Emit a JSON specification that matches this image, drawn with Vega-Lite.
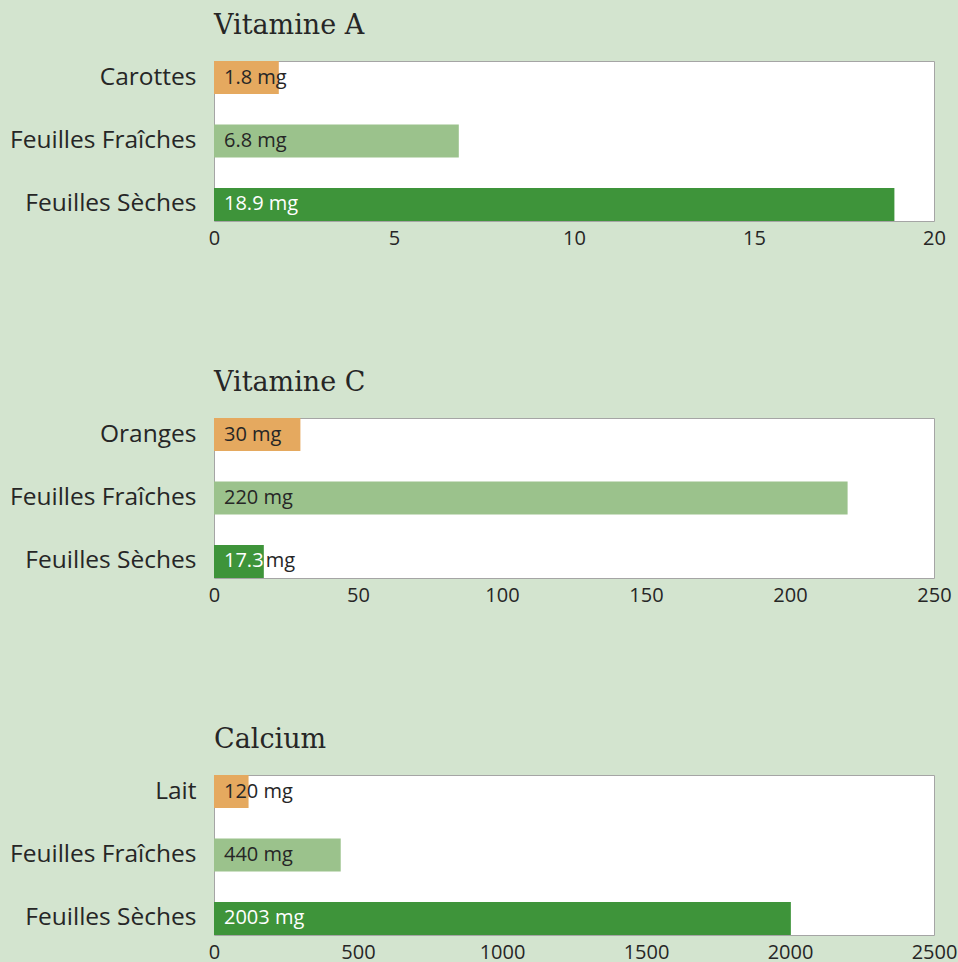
{
  "$schema": "https://vega.github.io/schema/vega-lite/v6.json",
  "background": "#d3e4cf",
  "padding": {"left": 9, "top": 11, "right": 1, "bottom": 0},
  "config": {
    "view": {"fill": "white", "stroke": "#a5a5a5", "strokeWidth": 1},
    "axis": {"labelFont": "Open Sans", "labelColor": "#262626", "domain": false, "ticks": false, "grid": false, "title": null},
    "axisX": {"labelFontSize": 20, "labelPadding": 7, "format": "d", "labelFlush": false, "labelOverlap": false},
    "axisY": {"labelFontSize": 24.5, "labelPadding": 18, "labelLimit": 300},
    "title": {"font": "DejaVu Serif", "fontSize": 27, "fontWeight": "normal", "color": "#262626", "anchor": "start", "frame": "group", "offset": 21},
    "concat": {"spacing": 119},
    "text": {"font": "Open Sans", "fontSize": 20}
  },
  "datasets": {
    "vitA": [
      {"food": "Carottes", "value": 1.8, "label": "1.8 mg"},
      {"food": "Feuilles Fraîches", "value": 6.8, "label": "6.8 mg"},
      {"food": "Feuilles Sèches", "value": 18.9, "label": "18.9 mg"}
    ],
    "vitC": [
      {"food": "Oranges", "value": 30, "label": "30 mg"},
      {"food": "Feuilles Fraîches", "value": 220, "label": "220 mg"},
      {"food": "Feuilles Sèches", "value": 17.3, "label": "17.3 mg"}
    ],
    "calcium": [
      {"food": "Lait", "value": 120, "label": "120 mg"},
      {"food": "Feuilles Fraîches", "value": 440, "label": "440 mg"},
      {"food": "Feuilles Sèches", "value": 2003, "label": "2003 mg"}
    ]
  },
  "vconcat": [
    {
      "title": "Vitamine A",
      "width": 720, "height": 160,
      "data": {"name": "vitA"},
      "encoding": {"y": {"field": "food", "type": "nominal", "sort": null, "scale": {"paddingInner": 0.48, "paddingOuter": 0}}},
      "layer": [
        {"mark": "bar", "encoding": {
          "x": {"field": "value", "type": "quantitative", "scale": {"domain": [0, 20], "nice": false}, "axis": {"values": [0, 5, 10, 15, 20]}},
          "color": {"field": "food", "type": "nominal", "legend": null, "scale": {"domain": ["Carottes", "Oranges", "Lait", "Feuilles Fraîches", "Feuilles Sèches"], "range": ["#e5a95f", "#e5a95f", "#e5a95f", "#9bc28c", "#3e943a"]}}
        }},
        {"mark": {"type": "text", "align": "left", "dx": 10}, "encoding": {
          "x": {"datum": 0, "type": "quantitative"},
          "text": {"field": "label"},
          "color": {"condition": {"test": "datum.food === 'Feuilles Sèches'", "value": "white"}, "value": "#262626"}
        }}
      ]
    },
    {
      "title": "Vitamine C",
      "width": 720, "height": 160,
      "data": {"name": "vitC"},
      "encoding": {"y": {"field": "food", "type": "nominal", "sort": null, "scale": {"paddingInner": 0.48, "paddingOuter": 0}}},
      "layer": [
        {"mark": "bar", "encoding": {
          "x": {"field": "value", "type": "quantitative", "scale": {"domain": [0, 250], "nice": false}, "axis": {"values": [0, 50, 100, 150, 200, 250]}},
          "color": {"field": "food", "type": "nominal", "legend": null, "scale": {"domain": ["Carottes", "Oranges", "Lait", "Feuilles Fraîches", "Feuilles Sèches"], "range": ["#e5a95f", "#e5a95f", "#e5a95f", "#9bc28c", "#3e943a"]}}
        }},
        {"transform": [{"filter": "datum.food !== 'Feuilles Sèches'"}],
         "mark": {"type": "text", "align": "left", "dx": 10, "color": "#262626"}, "encoding": {
          "x": {"datum": 0, "type": "quantitative"},
          "text": {"field": "label"}
        }},
        {"transform": [{"filter": "datum.food === 'Feuilles Sèches'"}],
         "mark": {"type": "text", "align": "left", "dx": 10, "color": "white"}, "encoding": {
          "x": {"datum": 0, "type": "quantitative"},
          "text": {"field": "value", "type": "quantitative", "format": ".1f"}
        }},
        {"transform": [{"filter": "datum.food === 'Feuilles Sèches'"}],
         "mark": {"type": "text", "align": "left", "dx": 2, "color": "#262626"}, "encoding": {
          "x": {"field": "value", "type": "quantitative"},
          "text": {"value": "mg"}
        }}
      ]
    },
    {
      "title": "Calcium",
      "width": 720, "height": 160,
      "data": {"name": "calcium"},
      "encoding": {"y": {"field": "food", "type": "nominal", "sort": null, "scale": {"paddingInner": 0.48, "paddingOuter": 0}}},
      "layer": [
        {"mark": "bar", "encoding": {
          "x": {"field": "value", "type": "quantitative", "scale": {"domain": [0, 2500], "nice": false}, "axis": {"values": [0, 500, 1000, 1500, 2000, 2500]}},
          "color": {"field": "food", "type": "nominal", "legend": null, "scale": {"domain": ["Carottes", "Oranges", "Lait", "Feuilles Fraîches", "Feuilles Sèches"], "range": ["#e5a95f", "#e5a95f", "#e5a95f", "#9bc28c", "#3e943a"]}}
        }},
        {"mark": {"type": "text", "align": "left", "dx": 10}, "encoding": {
          "x": {"datum": 0, "type": "quantitative"},
          "text": {"field": "label"},
          "color": {"condition": {"test": "datum.food === 'Feuilles Sèches'", "value": "white"}, "value": "#262626"}
        }}
      ]
    }
  ]
}
